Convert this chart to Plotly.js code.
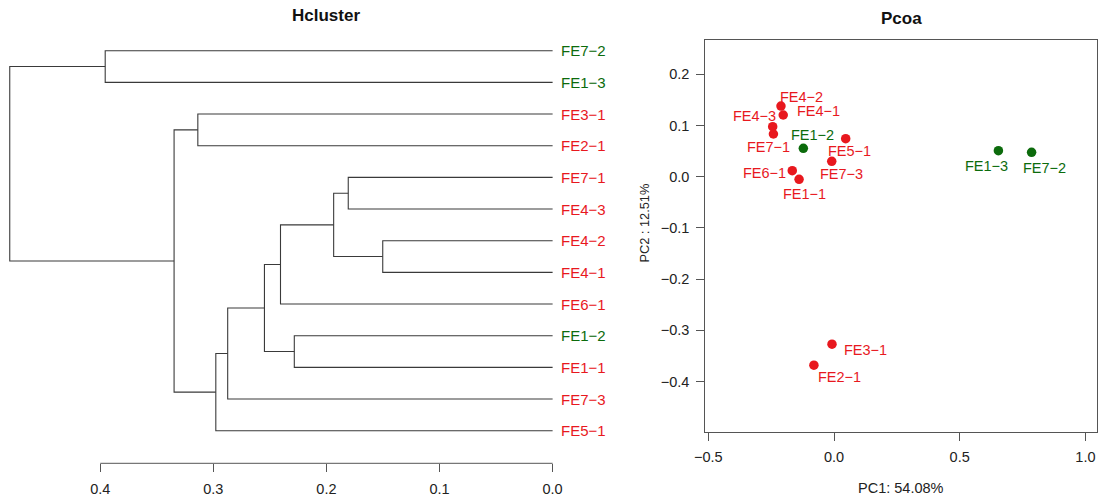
<!DOCTYPE html>
<html>
<head>
<meta charset="utf-8">
<script src="https://cdn.plot.ly/plotly-3.0.1.min.js"></script>
<style>html,body{margin:0;padding:0;background:#fff;}#chart{width:1102px;height:504px;}</style>
</head>
<body>
<div id="chart"></div>
<script>
// ---------- Hcluster data ----------
const leafLabels = ['FE7-2','FE1-3','FE3-1','FE2-1','FE7-1','FE4-3','FE4-2','FE4-1','FE6-1','FE1-2','FE1-1','FE7-3','FE5-1'];
const leafGroups = ['G','G','R','R','R','R','R','R','R','G','R','R','R'];
// merge table (negative = leaf number in leafLabels order, positive = earlier merge row)
const mergeLeft   = [-7, -5, 2, -10, 3, 5, 6, 7, -3, 9, -1, 11];
const mergeRight  = [-8, -6, 1, -11, -9, 4, -12, -13, -4, 8, -2, 10];
const mergeHeight = [0.1502, 0.1807, 0.1936, 0.2284, 0.2406, 0.2548, 0.2873, 0.2978, 0.3137, 0.3347, 0.3956, 0.480];
const heightTicks = [0.4, 0.3, 0.2, 0.1, 0.0];

// ---------- Pcoa data ----------
const sampleNames = ['FE4-2','FE4-1','FE4-3','FE7-1','FE1-2','FE5-1','FE7-3','FE6-1','FE1-1','FE1-3','FE7-2','FE3-1','FE2-1'];
const sampleGroups = ['R','R','R','R','G','R','R','R','R','G','G','R','R'];
const pc1 = [-0.211, -0.202, -0.244, -0.241, -0.122, 0.0465, -0.009, -0.166, -0.139, 0.654, 0.786, -0.008, -0.080];
const pc2 = [0.138, 0.1205, 0.0977, 0.0834, 0.0555, 0.0742, 0.030, 0.0117, -0.0051, 0.0508, 0.0476, -0.327, -0.368];
const pcTicksX = [-0.5, 0.0, 0.5, 1.0];
const pcTicksY = [-0.4, -0.3, -0.2, -0.1, 0.0, 0.1, 0.2];
const pc1Title = 'PC1: 54.08%';
const pc2Title = 'PC2 : 12.51%';

// ---------- styling ----------
const W = 1102, H = 504;
const colors = {R: '#e8181e', G: '#0c6b0c'};
const FONT = 'Liberation Sans, Arial, Helvetica, sans-serif';
const disp = s => s.replace(/-/g, '\u2212');
// label offsets in screen px (dx right, dy down)
const labelDx = [20.7, 35, -17.7, -5, 9, 4.3, 9.3, -27.3, 5.3, -11.6, 12.6, 33, 26];
const labelDy = [-9.3, -4.3, -10.7, 12.7, -13.3, 12, 12.4, 2, 15, 15, 16, 6, 11.4];

// ---------- dendrogram geometry through merge table ----------
function node(ref) {
  if (ref < 0) return {y: -ref, h: 0};
  return nodes[ref - 1];
}
const nodes = [];
const segX = [], segY = [];
for (let k = 0; k < mergeHeight.length; k++) {
  const a = node(mergeLeft[k]), b = node(mergeRight[k]), h = mergeHeight[k];
  segX.push(a.h, h, h, b.h, null);
  segY.push(a.y, a.y, b.y, b.y, null);
  nodes.push({y: (a.y + b.y) / 2, h: h});
}
const leafPos = leafLabels.map((_, i) => i + 1);

const traces = [
  {type: 'scatter', mode: 'lines', x: segX, y: segY, xaxis: 'x', yaxis: 'y',
   line: {color: '#3a3a3a', width: 1.1}, hoverinfo: 'skip', connectgaps: false},
  {type: 'scatter', mode: 'markers', x: pc1, y: pc2, xaxis: 'x2', yaxis: 'y2',
   text: sampleNames, hoverinfo: 'text',
   marker: {size: 9.5, color: sampleGroups.map(g => colors[g])}, cliponaxis: false}
];

const annotations = [];
leafLabels.forEach((lab, i) => {
  annotations.push({x: 0, y: leafPos[i], xref: 'x', yref: 'y', text: disp(lab), showarrow: false,
    xanchor: 'left', yanchor: 'middle', xshift: 6,
    font: {family: FONT, size: 15, color: colors[leafGroups[i]]}});
});
sampleNames.forEach((lab, i) => {
  annotations.push({x: pc1[i], y: pc2[i], xref: 'x2', yref: 'y2', text: disp(lab), showarrow: false,
    xanchor: 'center', yanchor: 'middle', xshift: labelDx[i], yshift: -labelDy[i],
    font: {family: FONT, size: 14.5, color: colors[sampleGroups[i]]}});
});
annotations.push(
  {x: 326 / W, y: 1 - 15.5 / H, xref: 'paper', yref: 'paper', text: 'Hcluster', showarrow: false,
   xanchor: 'center', yanchor: 'middle', font: {family: FONT, size: 17, weight: 'bold', color: '#111'}},
  {x: 901 / W, y: 1 - 18.3 / H, xref: 'paper', yref: 'paper', text: 'Pcoa', showarrow: false,
   xanchor: 'center', yanchor: 'middle', font: {family: FONT, size: 17, weight: 'bold', color: '#111'}},
  {x: 900.8 / W, y: 1 - 487.5 / H, xref: 'paper', yref: 'paper', text: pc1Title, showarrow: false,
   xanchor: 'center', yanchor: 'middle', font: {family: FONT, size: 14.5, color: '#222'}},
  {x: 644.3 / W, y: 1 - 223.3 / H, xref: 'paper', yref: 'paper', text: pc2Title, showarrow: false,
   textangle: -90, xanchor: 'center', yanchor: 'middle', font: {family: FONT, size: 12.8, color: '#222'}}
);

const dBottom = (H - 463.3) / H;
const layout = {
  width: W, height: H, margin: {l: 0, r: 0, t: 0, b: 0},
  paper_bgcolor: '#fff', plot_bgcolor: '#fff', showlegend: false,
  font: {family: FONT, color: '#222'},
  xaxis: {domain: [5 / W, 600 / W], range: [0.4842, -0.0419], anchor: 'y',
    showgrid: false, zeroline: false, showline: false, ticks: 'outside', ticklen: 8, tickwidth: 1,
    tickcolor: '#555', tickvals: heightTicks, ticktext: heightTicks.map(v => v.toFixed(1)),
    tickfont: {family: FONT, size: 14.5, color: '#222'}, ticklabelstandoff: 4},
  yaxis: {domain: [dBottom, 1 - 30 / H], range: [14.03, 0.346], anchor: 'x', visible: false},
  xaxis2: {domain: [705.3 / W, 1096.7 / W], range: [-0.512, 1.045], anchor: 'y2',
    showgrid: false, zeroline: false, showline: true, mirror: true, linecolor: '#555', linewidth: 1,
    ticks: 'outside', ticklen: 8, tickcolor: '#555', tickvals: pcTicksX, tickformat: '.1f',
    tickfont: {family: FONT, size: 14.5, color: '#222'}, ticklabelstandoff: 4},
  yaxis2: {domain: [(H - 431.7) / H, 1 - 40 / H], range: [-0.498, 0.267], anchor: 'x2',
    showgrid: false, zeroline: false, showline: true, mirror: true, linecolor: '#555', linewidth: 1,
    ticks: 'outside', ticklen: 8, tickcolor: '#555', tickvals: pcTicksY, tickformat: '.1f',
    tickfont: {family: FONT, size: 14.5, color: '#222'}, ticklabelstandoff: 4},
  shapes: [{type: 'line', xref: 'x', yref: 'paper', x0: heightTicks[0], x1: heightTicks[heightTicks.length - 1],
    y0: dBottom, y1: dBottom, line: {color: '#555', width: 1}}],
  annotations: annotations
};

Plotly.newPlot('chart', traces, layout, {displayModeBar: false, staticPlot: true});
</script>
</body>
</html>
